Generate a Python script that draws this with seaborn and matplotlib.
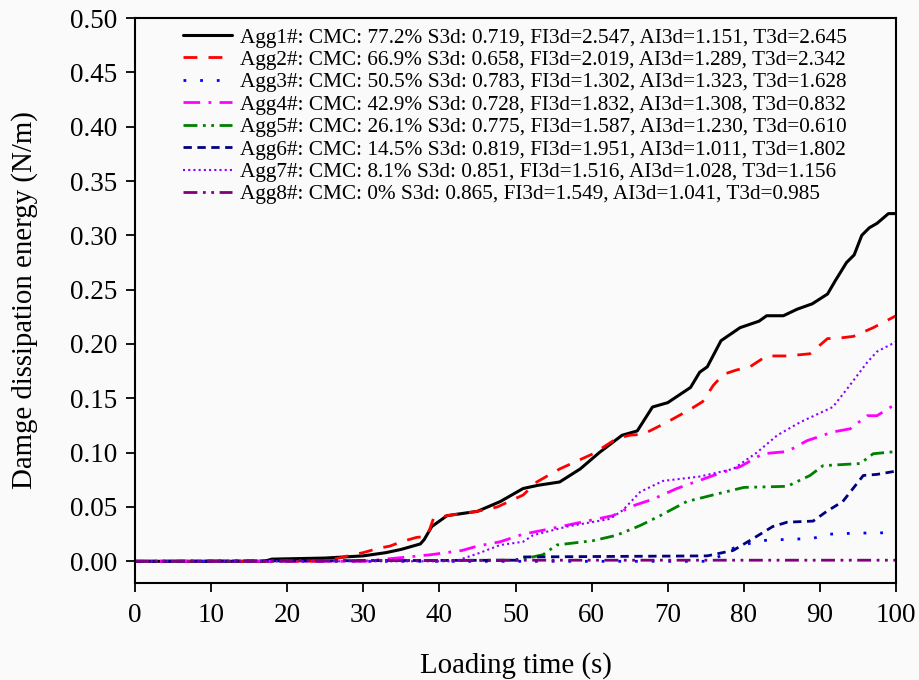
import numpy as np
import pandas as pd
import matplotlib
matplotlib.use("Agg")
import matplotlib.pyplot as plt
import seaborn as sns

# loading time (s) and damage dissipation energy (N/m)
t1 = [0, 17, 18, 25, 30, 33, 35, 37.5, 38, 39, 40, 41, 45, 48, 51, 53, 55.8, 58.5, 61, 64, 66, 68, 70, 73,
      74.2, 75.2, 77, 79.5, 82, 83, 85.2, 87, 89, 91, 92, 93.5, 94.5, 95.5, 96.5, 97.5, 99, 100]
e1 = [0, 0, 0.002, 0.003, 0.005, 0.008, 0.011, 0.016, 0.020, 0.032, 0.037, 0.042, 0.046, 0.055, 0.067, 0.070,
      0.073, 0.085, 0.100, 0.116, 0.120, 0.142, 0.146, 0.160, 0.174, 0.179, 0.203, 0.215, 0.221, 0.226, 0.226,
      0.232, 0.237, 0.246, 0.258, 0.275, 0.282, 0.300, 0.307, 0.311, 0.320, 0.320]

t2 = [0, 25, 28, 30, 32, 33.5, 35, 37, 38.4, 39.2, 41, 45, 47.6, 51, 52.8, 55.8, 58, 60.2, 63.3, 65, 66.8,
      69.9, 73, 74.6, 76, 77.3, 79, 80.8, 83, 85.7, 88.7, 91, 92, 94.4, 97, 100]
e2 = [0, 0, 0.005, 0.008, 0.012, 0.014, 0.018, 0.022, 0.023, 0.039, 0.042, 0.046, 0.050, 0.061, 0.073, 0.085,
      0.092, 0.099, 0.113, 0.116, 0.117, 0.128, 0.140, 0.147, 0.162, 0.172, 0.176, 0.179, 0.189, 0.189, 0.191,
      0.205, 0.205, 0.207, 0.215, 0.226]

t3 = [0, 75, 77, 78.6, 80, 82.1, 85, 89, 91.3, 95, 97.9, 100]
e3 = [0, 0, 0.005, 0.012, 0.015, 0.019, 0.020, 0.021, 0.025, 0.026, 0.026, 0.028]

t4 = [0, 30, 34.4, 38.8, 43, 45, 48, 51, 53.2, 58, 62.8, 65.4, 68, 71.2, 76, 79.5, 82.5, 85.7, 88.3, 91.7,
      94, 96.2, 97.5, 100]
e4 = [0, 0, 0.003, 0.006, 0.010, 0.014, 0.018, 0.025, 0.028, 0.035, 0.042, 0.051, 0.057, 0.067, 0.079, 0.087,
      0.099, 0.101, 0.111, 0.119, 0.122, 0.134, 0.134, 0.145]

t5 = [0, 50.2, 53.6, 55.4, 60.2, 63.3, 66.4, 69, 72.5, 76.5, 80, 85.7, 88.7, 90.4, 95.3, 97, 100]
e5 = [0, 0.001, 0.006, 0.015, 0.019, 0.024, 0.033, 0.042, 0.055, 0.062, 0.068, 0.069, 0.079, 0.088, 0.090,
      0.099, 0.101]

t6 = [0, 50, 51, 75.2, 78.6, 81, 83.8, 85.7, 89.1, 90.9, 93, 95.7, 97.5, 100]
e6 = [0, 0.001, 0.004, 0.005, 0.010, 0.020, 0.032, 0.036, 0.037, 0.046, 0.055, 0.079, 0.080, 0.083]

t7 = [0, 42, 45, 48, 51, 52.3, 56.8, 62.4, 64.1, 66.4, 69.4, 74.2, 78.6, 81.7, 84.4, 87.4, 91.7, 93.6, 96.2,
      97.5, 100]
e7 = [0, 0, 0.007, 0.015, 0.018, 0.024, 0.032, 0.039, 0.047, 0.064, 0.074, 0.078, 0.085, 0.100, 0.116, 0.128,
      0.142, 0.159, 0.183, 0.193, 0.202]

t8 = [0, 50, 100]
e8 = [0, 0.001, 0.001]

labels = [
    "Agg1#: CMC: 77.2% S3d: 0.719, FI3d=2.547, AI3d=1.151, T3d=2.645",
    "Agg2#: CMC: 66.9% S3d: 0.658, FI3d=2.019, AI3d=1.289, T3d=2.342",
    "Agg3#: CMC: 50.5% S3d: 0.783, FI3d=1.302, AI3d=1.323, T3d=1.628",
    "Agg4#: CMC: 42.9% S3d: 0.728, FI3d=1.832, AI3d=1.308, T3d=0.832",
    "Agg5#: CMC: 26.1% S3d: 0.775, FI3d=1.587, AI3d=1.230, T3d=0.610",
    "Agg6#: CMC: 14.5% S3d: 0.819, FI3d=1.951, AI3d=1.011, T3d=1.802",
    "Agg7#: CMC: 8.1% S3d: 0.851, FI3d=1.516, AI3d=1.028, T3d=1.156",
    "Agg8#: CMC: 0% S3d: 0.865, FI3d=1.549, AI3d=1.041, T3d=0.985",
]

series = [(t1, e1), (t2, e2), (t3, e3), (t4, e4), (t5, e5), (t6, e6), (t7, e7), (t8, e8)]
colors = ["#000000", "#FF0000", "#0000FF", "#FF00FF", "#008000", "#000080", "#8B00FF", "#800080"]
styles = ["-", (0, (5, 4)), (0, (1, 5)), (0, (6, 3, 1, 3)), (0, (5, 2, 1, 2, 1, 2)),
          (0, (3, 2)), (0, (1, 1.5)), (0, (5, 2, 1, 2, 1, 2))]
widths = [2.2, 2, 2, 2, 2, 2, 1.5, 2]

sns.set_theme(style="ticks")
plt.rcParams["font.family"] = ["Liberation Serif", "DejaVu Serif"]
plt.rcParams["text.color"] = "black"
plt.rcParams["axes.labelcolor"] = "black"

fig = plt.figure(figsize=(9.19, 6.8), dpi=100, facecolor="#FAFAFA")
ax = fig.add_axes([0.1469, 0.1426, 0.8281, 0.8309])
ax.set_facecolor("#FAFAFA")

for (t, e), lab, c, ls, lw in zip(series, labels, colors, styles, widths):
    df = pd.DataFrame({"time": t, "energy": e})
    sns.lineplot(data=df, x="time", y="energy", ax=ax, color=c, linestyle=ls,
                 linewidth=lw, label=lab)

ax.set_xlim(0, 100)
ax.set_ylim(-0.02, 0.5)
ax.set_xticks(np.arange(0, 101, 10))
ax.set_yticks(np.arange(0, 0.501, 0.05))
ax.set_yticklabels([f"{v:.2f}" for v in np.arange(0, 0.501, 0.05)])
ax.tick_params(direction="out", length=6.5, width=1.3, labelsize=19.5, colors="black")
ax.tick_params(axis="x", pad=8)
ax.tick_params(axis="y", pad=6)
for s in ax.spines.values():
    s.set_linewidth(1.5)
    s.set_color("black")

ax.set_xlabel("Loading time (s)", fontsize=20.8, labelpad=17)
ax.set_ylabel("Damge dissipation energy (N/m)", fontsize=20.8, labelpad=23)

leg = ax.legend(loc="upper left", bbox_to_anchor=(0.063, 0.983), frameon=False, fontsize=15.3,
                handlelength=2.3, handletextpad=0.4, labelspacing=0.12,
                borderaxespad=0, borderpad=0)

fig.savefig("out.png", dpi=100, facecolor=fig.get_facecolor())
